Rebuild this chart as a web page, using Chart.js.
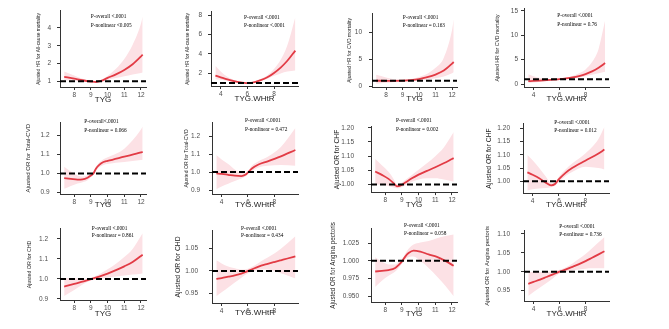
<!DOCTYPE html>
<html><head><meta charset="utf-8">
<script src="https://cdn.jsdelivr.net/npm/chart.js@4.4.1/dist/chart.umd.min.js"></script>
<style>
html,body{margin:0;padding:0;background:#fff;}
body{width:669px;height:329px;position:relative;overflow:hidden;}
canvas{position:absolute;}
</style></head><body>
<script>
// ---------- data ----------
const tygTicks = [8, 9, 10, 11, 12];
const whtrTicks = [4, 6, 8];

const p1_x   = [7.4, 8.0, 8.5, 9.0, 9.3, 9.6, 10.0, 10.5, 11.0, 11.5, 12.0, 12.1];
const p1_fit = [1.25, 1.15, 1.06, 0.99, 0.96, 1.02, 1.19, 1.39, 1.64, 1.96, 2.40, 2.50];
const p1_lo  = [1.06, 1.02, 0.99, 0.96, 0.95, 0.98, 1.08, 1.18, 1.28, 1.38, 1.47, 1.50];
const p1_hi  = [1.55, 1.32, 1.14, 1.02, 0.98, 1.07, 1.30, 1.70, 2.25, 3.05, 4.25, 4.65];
const p1_yt  = [1, 2, 3, 4];

const p2_x   = [3.6, 4.0, 4.5, 5.0, 5.5, 5.9, 6.3, 7.0, 7.5, 8.0, 8.5, 9.0, 9.6];
const p2_fit = [1.78, 1.60, 1.38, 1.20, 1.07, 1.00, 1.03, 1.30, 1.60, 2.05, 2.60, 3.30, 4.35];
const p2_lo  = [1.40, 1.35, 1.22, 1.10, 1.02, 0.98, 1.00, 1.20, 1.45, 1.75, 2.00, 2.20, 2.30];
const p2_hi  = [2.80, 2.20, 1.65, 1.32, 1.12, 1.02, 1.07, 1.42, 1.80, 2.45, 3.40, 4.90, 7.80];
const p2_yt  = [2, 4, 6, 8];

const p3_x   = [7.4, 8.0, 8.5, 9.0, 9.5, 10.0, 10.5, 11.0, 11.5, 12.0, 12.1];
const p3_fit = [1.00, 0.98, 0.97, 1.00, 1.10, 1.30, 1.65, 2.15, 2.90, 4.20, 4.50];
const p3_lo  = [0.45, 0.60, 0.75, 0.85, 0.90, 1.00, 1.20, 1.45, 1.80, 2.40, 2.60];
const p3_hi  = [2.10, 1.60, 1.25, 1.15, 1.30, 1.70, 2.30, 3.40, 5.30, 10.5, 12.5];
const p3_yt  = [0, 5, 10];

const p4_x   = [3.6, 4.0, 4.5, 5.0, 5.5, 6.0, 6.5, 7.0, 7.5, 8.0, 8.5, 9.0, 9.5];
const p4_fit = [0.60, 0.65, 0.72, 0.80, 0.90, 1.00, 1.15, 1.35, 1.65, 2.05, 2.60, 3.35, 4.30];
const p4_lo  = [0.20, 0.30, 0.45, 0.60, 0.75, 0.90, 1.00, 1.15, 1.35, 1.60, 1.90, 2.20, 2.50];
const p4_hi  = [2.00, 1.60, 1.25, 1.10, 1.05, 1.10, 1.30, 1.65, 2.20, 3.00, 4.50, 7.20, 13.0];
const p4_yt  = [0, 5, 10, 15];

const p5_x   = [7.4, 7.8, 8.2, 8.5, 8.8, 9.0, 9.15, 9.3, 9.5, 9.75, 10.0, 11.0, 12.0, 12.1];
const p5_fit = [0.976, 0.972, 0.968, 0.969, 0.978, 0.990, 1.000, 1.025, 1.045, 1.060, 1.066, 1.088, 1.110, 1.113];
const p5_lo  = [0.920, 0.935, 0.948, 0.955, 0.965, 0.980, 0.995, 1.015, 1.033, 1.045, 1.050, 1.060, 1.070, 1.072];
const p5_hi  = [1.035, 1.010, 0.990, 0.985, 0.990, 1.000, 1.006, 1.035, 1.058, 1.075, 1.085, 1.130, 1.230, 1.245];
const p5_yt  = [0.9, 1.0, 1.1, 1.2];

const p6_x   = [3.6, 4.0, 4.5, 5.0, 5.5, 5.8, 6.0, 6.3, 6.8, 7.5, 8.5, 9.6];
const p6_fit = [0.993, 0.990, 0.985, 0.980, 0.978, 0.985, 0.998, 1.020, 1.042, 1.060, 1.088, 1.123];
const p6_lo  = [0.905, 0.920, 0.935, 0.950, 0.965, 0.975, 0.990, 1.005, 1.025, 1.035, 1.040, 1.035];
const p6_hi  = [1.095, 1.070, 1.045, 1.015, 0.995, 0.995, 1.005, 1.035, 1.060, 1.085, 1.140, 1.245];
const p6_yt  = [0.9, 1.0, 1.1, 1.2];

const p7_x   = [7.4, 7.8, 8.2, 8.5, 8.7, 8.9, 9.2, 9.6, 10.0, 10.5, 11.0, 11.5, 12.0, 12.1];
const p7_fit = [1.046, 1.034, 1.020, 1.005, 0.994, 0.996, 1.007, 1.022, 1.035, 1.048, 1.061, 1.075, 1.090, 1.093];
const p7_lo  = [1.000, 1.000, 0.995, 0.990, 0.987, 0.989, 0.998, 1.010, 1.018, 1.022, 1.022, 1.018, 1.012, 1.010];
const p7_hi  = [1.090, 1.068, 1.045, 1.020, 1.001, 1.003, 1.016, 1.034, 1.052, 1.075, 1.100, 1.130, 1.175, 1.185];
const p7_yt  = [1.00, 1.05, 1.10, 1.15, 1.20];

const p8_x   = [3.6, 4.0, 4.5, 5.0, 5.4, 5.7, 6.0, 6.5, 7.0, 8.0, 9.0, 9.45];
const p8_fit = [1.034, 1.025, 1.012, 0.995, 0.985, 0.990, 1.008, 1.032, 1.050, 1.078, 1.105, 1.120];
const p8_lo  = [0.965, 0.970, 0.973, 0.975, 0.978, 0.983, 0.998, 1.020, 1.035, 1.055, 1.050, 1.045];
const p8_hi  = [1.100, 1.080, 1.050, 1.018, 0.993, 0.997, 1.018, 1.045, 1.067, 1.105, 1.160, 1.205];
const p8_yt  = [1.00, 1.05, 1.10, 1.15, 1.20];

const p9_x   = [7.4, 8.0, 8.5, 9.0, 9.5, 10.0, 10.5, 11.0, 11.5, 12.0, 12.1];
const p9_fit = [0.962, 0.975, 0.987, 0.999, 1.012, 1.027, 1.044, 1.063, 1.085, 1.115, 1.121];
const p9_lo  = [0.915, 0.945, 0.972, 0.992, 1.000, 1.006, 1.012, 1.017, 1.022, 1.026, 1.027];
const p9_hi  = [1.005, 1.003, 1.000, 1.006, 1.024, 1.048, 1.076, 1.110, 1.150, 1.215, 1.228];
const p9_yt  = [0.9, 1.0, 1.1, 1.2];

const p10_x   = [3.6, 4.0, 4.5, 5.0, 5.5, 6.0, 6.5, 7.0, 7.5, 8.0, 8.5, 9.0, 9.6];
const p10_fit = [0.982, 0.984, 0.987, 0.990, 0.994, 1.000, 1.006, 1.012, 1.016, 1.020, 1.024, 1.028, 1.033];
const p10_lo  = [0.943, 0.952, 0.963, 0.974, 0.985, 0.995, 1.000, 1.003, 1.003, 1.000, 0.995, 0.990, 0.983];
const p10_hi  = [1.024, 1.017, 1.010, 1.006, 1.003, 1.005, 1.012, 1.022, 1.030, 1.039, 1.050, 1.062, 1.078];
const p10_yt  = [0.95, 1.00, 1.05];

const p11_x   = [7.4, 7.8, 8.2, 8.6, 8.8, 9.0, 9.2, 9.4, 9.7, 10.1, 10.6, 11.1, 11.6, 12.1];
const p11_fit = [0.985, 0.986, 0.987, 0.990, 0.994, 0.999, 1.006, 1.011, 1.0145, 1.013, 1.009, 1.0055, 1.000, 0.993];
const p11_lo  = [0.963, 0.972, 0.979, 0.985, 0.990, 0.996, 1.002, 1.005, 1.006, 1.000, 0.990, 0.978, 0.965, 0.950];
const p11_hi  = [1.005, 0.999, 0.995, 0.995, 0.998, 1.002, 1.010, 1.017, 1.023, 1.026, 1.028, 1.032, 1.035, 1.037];
const p11_yt  = [0.950, 0.975, 1.000, 1.025];

const p12_x   = [3.6, 4.0, 4.5, 5.0, 5.5, 6.0, 6.5, 7.0, 7.5, 8.0, 8.5, 9.0, 9.45];
const p12_fit = [0.968, 0.973, 0.979, 0.986, 0.993, 1.000, 1.006, 1.013, 1.020, 1.028, 1.037, 1.046, 1.054];
const p12_lo  = [0.936, 0.946, 0.958, 0.970, 0.983, 0.995, 1.000, 1.003, 1.006, 1.008, 1.009, 1.009, 1.009];
const p12_hi  = [1.000, 0.999, 0.999, 1.000, 1.002, 1.005, 1.012, 1.022, 1.034, 1.047, 1.062, 1.078, 1.092];
const p12_yt  = [0.95, 1.00, 1.05, 1.10];

const yTitles = [
  'Ajusted HR for All-cause mortality', 'Ajusted HR for All-cause mortality',
  'Ajusted HR for CVD mortality', 'Ajusted HR for CVD mortality',
  'Ajusted OR for Total-CVD', 'Ajusted OR for Total-CVD',
  'Ajusted OR for CHF', 'Ajusted OR for CHF',
  'Ajusted OR for CHD', 'Ajusted OR for CHD',
  'Ajusted OR for Angina pectoris', 'Ajusted OR for Angina pectoris'
];
const xTitles = ['TYG','TYG.WHtR','TYG','TYG.WHtR','TYG','TYG.WHtR','TYG','TYG.WHtR','TYG','TYG.WHtR','TYG','TYG.WHtR'];
const pOverall = ['P-overall <.0001','P-overall <.0001','P-overall <.0001','P-overall <.0001','P-overall<.0001','P-overall <.0001',
                  'P-overall <.0001','P-overall <.0001','P-overall <.0001','P-overall <.0001','P-overall <.0001','P-overall <.0001'];
const pNonlinear = ['P-nonlinear <0.005','P-nonlinear <.0001','P-nonlinear = 0.163','P-nonlinear = 0.76','P-nonlinear = 0.066','P-nonlinear = 0.472',
                    'P-nonlinear = 0.002','P-nonlinear = 0.012','P-nonlinear = 0.861','P-nonlinear = 0.434','P-nonlinear = 0.058','P-nonlinear = 0.736'];

// ---------- layout (page pixels) ----------
const series = [
  [p1_x,p1_fit,p1_lo,p1_hi,p1_yt],[p2_x,p2_fit,p2_lo,p2_hi,p2_yt],[p3_x,p3_fit,p3_lo,p3_hi,p3_yt],[p4_x,p4_fit,p4_lo,p4_hi,p4_yt],
  [p5_x,p5_fit,p5_lo,p5_hi,p5_yt],[p6_x,p6_fit,p6_lo,p6_hi,p6_yt],[p7_x,p7_fit,p7_lo,p7_hi,p7_yt],[p8_x,p8_fit,p8_lo,p8_hi,p8_yt],
  [p9_x,p9_fit,p9_lo,p9_hi,p9_yt],[p10_x,p10_fit,p10_lo,p10_hi,p10_yt],[p11_x,p11_fit,p11_lo,p11_hi,p11_yt],[p12_x,p12_fit,p12_lo,p12_hi,p12_yt]
];
// L,R,T,B, yTitleX, yTitleSize, xTitleY, tickPad, annX, annY1, annY2, ymin, ymax, decimals
const geo = [
  [60,146,7,87, 39,4.8,100,6, 90.7,16,25, 0.68,4.96,0],
  [211,298,8,86, 188,4.8,99,6, 244,17.3,25, 0.7,8.34,0],
  [372,457,9,87, 350,5.0,99,7, 402.7,17.3,25, -0.18,13.5,0],
  [524,609,8,87, 497,5.2,99,3, 557.3,15.7,24, -0.6,15.4,0],
  [60,146,117,194, 29,6.0,205,7.5, 84.3,121.7,130, 0.893,1.267,1],
  [212,298,116,194, 187,5.1,205,9, 245,120.7,129, 0.878,1.274,1],
  [371,457,115,193, 337,6.7,205,14, 396,120.7,129, 0.9735,1.203,2],
  [523,609,116,193, 489,6.8,205,10, 554.3,122.3,130, 0.956,1.217,2],
  [60,146,222,300, 29,5.3,314,9, 91.7,228.3,235.7, 0.895,1.25,1],
  [212,298,222,303, 178,6.8,313,11, 241,228.3,235.7, 0.928,1.09,2],
  [371,457,222,302, 333,6.3,314,9, 404,225,233.3, 0.942,1.045,3],
  [524,609,222,301, 487,5.8,314,11, 559.3,226.7,234, 0.9225,1.108,2]
];
const TYG_RANGE = [7.15, 12.3];
const WHTR_RANGE = [3.27, 9.8];

const RED = '#E23B45';
const PINK = '#FCE1E5';
const AXIS = '#333333';
const TICKTXT = '#4d4d4d';
Chart.defaults.font.family = '"Liberation Sans", Arial, sans-serif';

const annPlugin = {
  id: 'ann',
  afterDraw(chart, args, o) {
    const ctx = chart.ctx;
    ctx.save();
    ctx.font = o.size + 'px "Liberation Serif", "Times New Roman", serif';
    ctx.fillStyle = '#000';
    ctx.textBaseline = 'middle';
    ctx.textAlign = 'left';
    o.lines.forEach((t, i) => {
      ctx.save();
      ctx.translate(o.x, o.ys[i]);
      ctx.scale(o.sx, 1);
      ctx.fillText(t, 0, 0);
      ctx.restore();
    });
    ctx.restore();
  }
};

function makePanel(i) {
  const [L,R,T,B,ytx,yfs,xty,tpad,ax,ay1,ay2,ymin,ymax,dec] = geo[i];
  const [xs, fit, lo, hi, yt] = series[i];
  const isT = xTitles[i] === 'TYG';
  const xr = isT ? TYG_RANGE : WHTR_RANGE;
  const xt = isT ? tygTicks : whtrTicks;
  const xfs = 8;
  const cl = Math.round(ytx - 0.6 * yfs);
  const ct = T - 6;
  const cw = R + 6 - cl;
  const ch = Math.ceil(B - ct + (xty - B) + 0.6 * xfs);
  const H = ch - (B - ct);
  const W = L - cl;
  const cv = document.createElement('canvas');
  cv.width = cw; cv.height = ch;
  cv.style.left = cl + 'px'; cv.style.top = ct + 'px';
  cv.style.width = cw + 'px'; cv.style.height = ch + 'px';
  document.body.appendChild(cv);
  const pts = ys => xs.map((v, k) => ({x: v, y: ys[k]}));
  new Chart(cv, {
    type: 'line',
    data: { datasets: [
      { data: [{x: xr[0], y: 1}, {x: xr[1], y: 1}], borderColor: '#000', borderWidth: 2, borderDash: [6, 3],
        pointRadius: 0, fill: false, order: 0 },
      { data: pts(fit), borderColor: RED, borderWidth: 1.8, pointRadius: 0, fill: false,
        cubicInterpolationMode: 'monotone', order: 1 },
      { data: pts(hi), borderWidth: 0, borderColor: 'rgba(0,0,0,0)', backgroundColor: PINK, pointRadius: 0,
        fill: '+1', cubicInterpolationMode: 'monotone', order: 2 },
      { data: pts(lo), borderWidth: 0, borderColor: 'rgba(0,0,0,0)', pointRadius: 0, fill: false,
        cubicInterpolationMode: 'monotone', order: 3 }
    ]},
    options: {
      responsive: false, maintainAspectRatio: false, animation: false, devicePixelRatio: 1,
      layout: { padding: { top: 6, right: 6, left: 0, bottom: 0 } },
      plugins: {
        legend: { display: false }, tooltip: { enabled: false },
        ann: { size: 6.8, sx: 0.78, x: ax - cl, ys: [ay1 - ct, ay2 - ct], lines: [pOverall[i], pNonlinear[i]] }
      },
      scales: {
        x: {
          type: 'linear', min: xr[0], max: xr[1],
          afterBuildTicks: a => { a.ticks = xt.map(v => ({value: v})); },
          afterFit: a => { a.height = H; },
          ticks: { autoSkip: false, maxRotation: 0, padding: 1, color: TICKTXT, font: { size: 6.5 },
                   callback: v => String(v) },
          grid: { display: true, drawOnChartArea: false, drawTicks: true, tickLength: 3, color: AXIS },
          border: { display: true, color: AXIS, width: 1 },
          title: { display: true, text: xTitles[i], color: '#222', font: { size: xfs }, padding: 0 }
        },
        y: {
          type: 'linear', min: ymin, max: ymax,
          afterBuildTicks: a => { a.ticks = yt.map(v => ({value: v})); },
          afterFit: a => { a.width = W; },
          ticks: { autoSkip: false, padding: tpad, color: TICKTXT, font: { size: 6.5 },
                   callback: v => Number(v).toFixed(dec) },
          grid: { display: true, drawOnChartArea: false, drawTicks: true, tickLength: 3, color: AXIS },
          border: { display: true, color: AXIS, width: 1 },
          title: { display: true, text: yTitles[i], color: '#222', font: { size: yfs }, padding: 0 }
        }
      }
    },
    plugins: [annPlugin]
  });
}
for (let i = 0; i < 12; i++) makePanel(i);
</script>
</body></html>
